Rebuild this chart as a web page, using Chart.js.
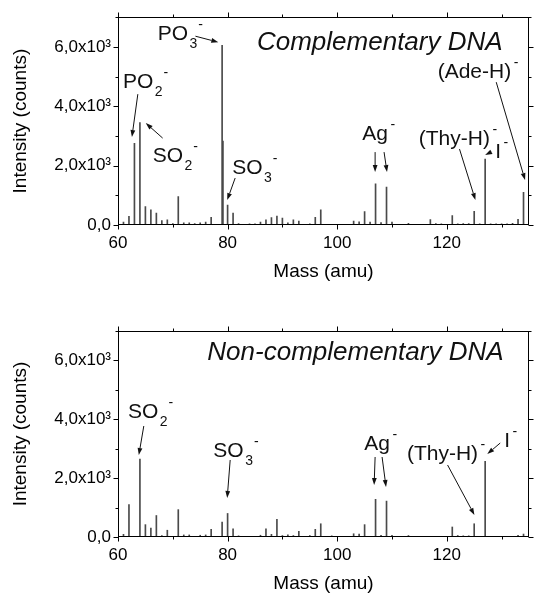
<!DOCTYPE html>
<html><head><meta charset="utf-8">
<script src="https://cdn.jsdelivr.net/npm/chart.js@4/dist/chart.umd.min.js"></script>
<style>
html,body{margin:0;padding:0;background:#fff;width:537px;height:593px;overflow:hidden}
#wrap{position:relative;width:537px;height:593px}
canvas{position:absolute;left:0}
</style></head><body>
<div id="wrap">
<canvas id="c1" width="537" height="300" style="top:0px"></canvas>
<canvas id="c2" width="537" height="293" style="top:300px"></canvas>
</div>
<script>
// ---- data ----
const compMass   = [61,62,63,64,65,66,67,68,69,70,71,72,73,74,75,76,77,79,79.15,80,81,82,84,85,86,87,88,89,90,91,92,93,95,96,97,103,104,105,106,107,108,109,110,113,117,118,119,121,122,123,124,125,126,127,128,129,130,131,132,133,134];
const compCounts = [100,290,2750,3450,620,510,400,150,170,50,960,70,70,50,70,100,260,6050,2830,670,400,50,40,40,100,170,250,300,230,70,170,130,40,260,510,130,110,450,100,1390,80,1280,100,60,180,50,40,320,40,50,50,460,40,2220,40,40,40,40,60,190,1100];

const nonMass   = [61,62,64,65,66,67,68,69,71,72,73,75,76,77,79,80,81,82,86,87,88,89,90,91,92,93,95,96,97,99,103,104,105,107,108,109,110,113,121,122,123,124,125,127,133,134];
const nonCounts = [90,1100,2650,420,300,730,50,230,930,70,70,60,70,260,510,800,280,40,60,280,90,600,50,70,50,190,50,260,450,40,110,100,420,1280,60,1220,60,50,340,50,40,40,450,2570,60,100];

const xTickValues = [60,80,100,120];
const xMinorStep = 10;
const yTickValues = [0,2000,4000,6000];
const yTickLabels = ['0,0','2,0x10\u00B3','4,0x10\u00B3','6,0x10\u00B3'];
const yMinorStep = 1000;
const xMin = 60, xMax = 135, yMin = 0, yMax = 7000;

const FONT = "'Liberation Sans', Arial, Helvetica, sans-serif";

// frame + outward ticks on all four sides
const framePlugin = {
  id:'frame',
  afterDraw(chart){
    const {ctx, chartArea:a, scales:{x,y}} = chart;
    ctx.save();
    ctx.strokeStyle='#000'; ctx.lineWidth=1;
    const L=Math.round(a.left)+0.5, R=Math.round(a.right)-0.5, T=Math.round(a.top)+0.5, B=Math.round(a.bottom)-0.5;
    ctx.strokeRect(L,T,R-L,B-T);
    ctx.beginPath();
    for(let m=xMin;m<xMax;m+=xMinorStep){
      const px=Math.round(x.getPixelForValue(m))+0.5;
      const len = xTickValues.includes(m)?5:3;
      ctx.moveTo(px,B); ctx.lineTo(px,B+len);
      ctx.moveTo(px,T); ctx.lineTo(px,T-len);
    }
    for(let v=yMin; v<=yMax; v+=yMinorStep){
      const py=Math.round(y.getPixelForValue(v))+0.5;
      const len = yTickValues.includes(v)?5:3;
      ctx.moveTo(L,py); ctx.lineTo(L-len,py);
      ctx.moveTo(R,py); ctx.lineTo(R+len,py);
    }
    ctx.stroke();
    ctx.restore();
  }
};

function makeAnno(cfg){
  return {
    id:'anno',
    afterDraw(chart){
      const {ctx, scales:{x,y}} = chart;
      ctx.save();
      ctx.fillStyle='#111'; ctx.strokeStyle='#111'; ctx.textBaseline='alphabetic'; ctx.textAlign='left';
      // title
      ctx.font = `italic 26px ${FONT}`;
      ctx.fillText(cfg.title.text, x.getPixelForValue(cfg.title.m), y.getPixelForValue(cfg.title.c));
      // labels
      for(const l of cfg.labels){
        const x0 = x.getPixelForValue(l.m), y0 = y.getPixelForValue(l.c);
        ctx.font = `21px ${FONT}`;
        ctx.fillText(l.main, x0, y0);
        let xx = x0 + ctx.measureText(l.main).width;
        ctx.font = `14px ${FONT}`;
        if(l.sub){ xx += 1.5; ctx.fillText(l.sub, xx, y0+8); xx += ctx.measureText(l.sub).width; }
        if(l.sup){ xx += l.sub?1:2.5; ctx.fillText(l.sup, xx, y0-11); }
      }
      // arrows
      ctx.lineWidth=1;
      for(const ar of cfg.arrows){
        const x1=x.getPixelForValue(ar[0]), y1=y.getPixelForValue(ar[1]);
        const x2=x.getPixelForValue(ar[2]), y2=y.getPixelForValue(ar[3]);
        const ang=Math.atan2(y2-y1,x2-x1);
        const hl=7, hw=2.4;
        const bx=x2-hl*Math.cos(ang), by=y2-hl*Math.sin(ang);
        ctx.beginPath(); ctx.moveTo(x1,y1); ctx.lineTo(bx,by); ctx.stroke();
        ctx.beginPath();
        ctx.moveTo(x2,y2);
        ctx.lineTo(bx+hw*Math.sin(ang), by-hw*Math.cos(ang));
        ctx.lineTo(bx-hw*Math.sin(ang), by+hw*Math.cos(ang));
        ctx.closePath(); ctx.fill();
      }
      ctx.restore();
    }
  };
}

function makeChart(id, mass, counts, cfg){
  const data = mass.map((m,i)=>({x:m, y:counts[i]}));
  return new Chart(document.getElementById(id), {
    type:'bar',
    data:{datasets:[{data, backgroundColor:'#4a4a4a', borderWidth:0, barThickness:1, grouped:false}]},
    options:{
      responsive:false, animation:false, devicePixelRatio:1,
      layout:{padding:{top:cfg.top, right:5, left:0, bottom:0}},
      plugins:{legend:{display:false}, tooltip:{enabled:false}},
      scales:{
        x:{type:'linear', min:xMin, max:xMax, offset:false,
          grid:{display:false, drawTicks:false, offset:false}, border:{display:false},
          ticks:{stepSize:xMinorStep, autoSkip:false, maxRotation:0, padding:8, color:'#000',
                 font:{family:FONT, size:17},
                 callback:v => xTickValues.includes(v) ? String(v) : ''},
          title:{display:true, text:'Mass (amu)', color:'#000', font:{family:FONT, size:19, lineHeight:1},
                 padding:{top:0, bottom:cfg.titlePad}},
          afterFit:s=>{ s.height = cfg.xH; }},
        y:{type:'linear', min:yMin, max:yMax,
          grid:{display:false, drawTicks:false}, border:{display:false},
          ticks:{stepSize:yMinorStep, autoSkip:false, padding:7, color:'#000',
                 font:{family:FONT, size:17},
                 callback:v => { const i=yTickValues.indexOf(v); return i>=0 ? yTickLabels[i] : ''; }},
          title:{display:true, text:'Intensity (counts)', color:'#000', font:{family:FONT, size:19, lineHeight:1},
                 padding:{top:11.5, bottom:0}},
          afterFit:s=>{ s.width = 118; }}
      }
    },
    plugins:[framePlugin, makeAnno(cfg)]
  });
}

makeChart('c1', compMass, compCounts, {
  top:17, xH:75, titlePad:18.5,
  title:{m:85.36, c:5889, text:'Complementary DNA'},
  labels:[
    {m:67.25, c:6225, main:'PO', sub:'3', sup:'-'},
    {m:60.9,  c:4610, main:'PO', sub:'2', sup:'-'},
    {m:66.34, c:2120, main:'SO', sub:'2', sup:'-'},
    {m:80.83, c:1716, main:'SO', sub:'3', sup:'-'},
    {m:104.57,c:2860, main:'Ag', sup:'-'},
    {m:114.89,c:2692, main:'(Thy-H)', sup:'-'},
    {m:128.84,c:2254, main:'I', sup:'-'},
    {m:118.33,c:4947, main:'(Ade-H)', sup:'-'}
  ],
  arrows:[
    [74.13,6360, 78.30,6158],
    [63.62,4408, 62.54,2961],
    [68.15,2928, 65.07,3432],
    [81.38,1582, 79.93,841],
    [106.92,2456, 106.92,1783],
    [108.55,2456, 109.09,1783],
    [122.32,2557, 125.22,841],
    [128.17,2467, 127.0,2356],
    [129.02,4812, 134.28,1514]
  ]
});

makeChart('c2', nonMass, nonCounts, {
  top:31, xH:56, titlePad:0,
  title:{m:76.30, c:6014, text:'Non-complementary DNA'},
  labels:[
    {m:61.81, c:4044, main:'SO', sub:'2', sup:'-'},
    {m:77.39, c:2718, main:'SO', sub:'3', sup:'-'},
    {m:104.93,c:2956, main:'Ag', sup:'-'},
    {m:112.72,c:2616, main:'(Thy-H)', sup:'-'},
    {m:130.47,c:3058, main:'I', sup:'-'}
  ],
  arrows:[
    [64.71,3772, 63.80,2786],
    [80.47,2616, 79.93,1325],
    [106.92,2718, 106.74,1767],
    [108.19,2718, 108.91,1699],
    [120.14,2447, 125.04,748],
    [129.75,3194, 127.39,2820]
  ]
});
</script>
</body></html>
